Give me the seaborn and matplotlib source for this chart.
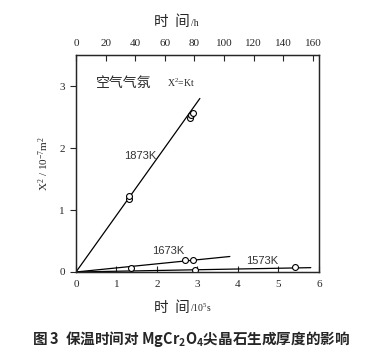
import numpy as np
import seaborn as sns
import matplotlib.pyplot as plt

sns.set_style("ticks")
plt.rcParams['font.family'] = ['Liberation Serif', 'Noto Sans CJK SC']
plt.rcParams['mathtext.fontset'] = 'custom'
plt.rcParams['mathtext.rm'] = 'Liberation Serif'
plt.rcParams['mathtext.it'] = 'Liberation Serif'

# measured points, time in 10^5 s, X^2 in 10^-7 m^2
t_1873 = [1.30, 1.31, 2.82, 2.85, 2.88]
x2_1873 = [1.18, 1.23, 2.48, 2.53, 2.57]
t_1673 = [1.35, 2.70, 2.90]
x2_1673 = [0.07, 0.20, 0.20]
t_1573 = [2.95, 5.40]
x2_1573 = [0.03, 0.08]

# fitted lines X^2 = K t (end points of each drawn line)
fit_t_1873 = [0, 3.06]
fit_x2_1873 = [0, 2.80]
fit_t_1673 = [0, 3.80]
fit_x2_1673 = [0, 0.25]
fit_t_1573 = [0, 5.80]
fit_x2_1573 = [0, 0.07]

fig = plt.figure(figsize=(3.81, 3.53), dpi=100)
ax = fig.add_axes([0.1995, 0.2295, 0.6375, 0.6145])

for ft, fx in [(fit_t_1873, fit_x2_1873), (fit_t_1673, fit_x2_1673), (fit_t_1573, fit_x2_1573)]:
    sns.lineplot(x=ft, y=fx, ax=ax, color='black', lw=0.9)

for tt, xx in [(t_1873, x2_1873), (t_1673, x2_1673), (t_1573, x2_1573)]:
    sns.scatterplot(x=tt, y=xx, ax=ax, marker='o', s=18, facecolor='white',
                    edgecolor='black', linewidth=0.8, zorder=3)

ax.set_xlim(0, 6)
ax.set_ylim(0, 3.5)
ax.set_xticks([0, 1, 2, 3, 4, 5, 6])
ax.set_yticks([0, 1, 2, 3])
ax.tick_params(direction='in', labelsize=8, length=4, width=0.8, pad=6)
ax.tick_params(axis='y', direction='out', pad=4)
ax.set_ylabel(r'$\mathregular{X^2\ /\ 10^{-7}m^2}$', fontsize=8, labelpad=6)
for sp in ax.spines.values():
    sp.set_linewidth(1.0)

ax.text(1.2, 1.87, '1873K', fontsize=8, family='Liberation Sans', va='center', color='#333333')
ax.text(1.87, 0.34, '1673K', fontsize=8, family='Liberation Sans', va='center', color='#333333')
ax.text(4.2, 0.18, '1573K', fontsize=8, family='Liberation Sans', va='center', color='#333333')
ax.text(0.5, 3.05, '空气气氛', fontsize=10, family='Noto Sans CJK SC', va='center')
ax.text(2.25, 3.05, r'$\mathregular{X^2}$=Kt', fontsize=7, va='center')

top = ax.twiny()
top.set_xlim(0, 164)
top.set_xticks([0, 20, 40, 60, 80, 100, 120, 140, 160])
top.tick_params(direction='in', labelsize=8, length=4, width=0.8, pad=5)

# axis titles: Chinese word plus a smaller serif unit
fig.text(0.497, 0.115, '时  间', ha='right', va='baseline', fontsize=10.5, family='Noto Sans CJK SC')
fig.text(0.499, 0.115, r'/10$\mathregular{^5}$s', ha='left', va='baseline', fontsize=7)
fig.text(0.499, 0.925, '时  间', ha='right', va='baseline', fontsize=10.5, family='Noto Sans CJK SC')
fig.text(0.501, 0.925, '/h', ha='left', va='baseline', fontsize=7)

fig.text(0.5, 0.025, '图 3  保温时间对 MgCr$\\mathregular{_2}$O$\\mathregular{_4}$尖晶石生成厚度的影响',
         ha='center', fontsize=10.5, fontweight='bold', family=['Noto Sans CJK SC', 'Liberation Serif'])

fig.savefig('out.png', dpi=100)
